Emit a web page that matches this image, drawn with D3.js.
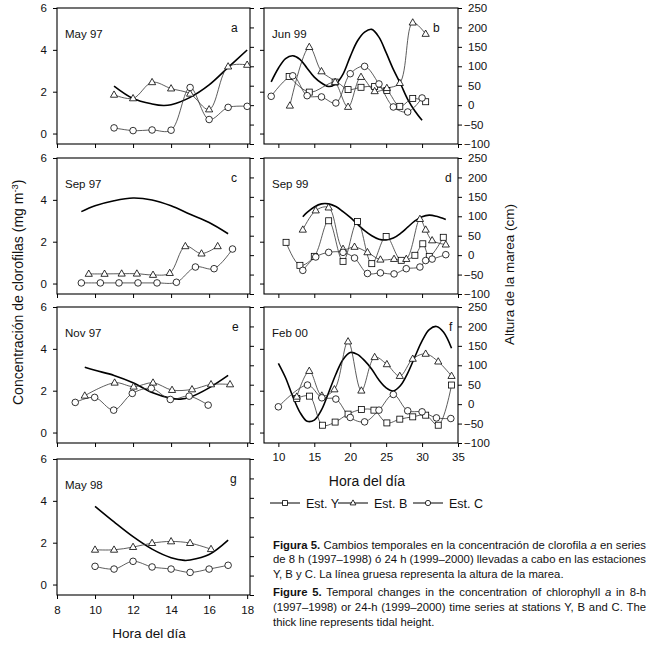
<!DOCTYPE html>
<html><head><meta charset="utf-8">
<script src="https://cdn.jsdelivr.net/npm/d3@7"></script>
<style>
body{margin:0;background:#fff}
svg text{font-family:"Liberation Sans",Arial,Helvetica,sans-serif;fill:#111}
</style>
</head><body>
<svg id="chart" width="653" height="645"></svg>
<script>
// ---------------- DATA (hour of day, value) ----------------
// chlorophyll in mg m-3 ; tide in cm
const stations = ["Est. Y", "Est. B", "Est. C"];
const leftTicksX = [8, 10, 12, 14, 16, 18];
const rightTicksX = [10, 15, 20, 25, 30, 35];
const chlTicks = [0, 2, 4, 6];
const tideTicks = [-100, -50, 0, 50, 100, 150, 200, 250];

// a  May 97
const aB = [[11,1.85],[12,1.68],[13,2.45],[14,2.15],[15,1.9],[16,1.15],[17,3.2],[18,3.28]];
const aC = [[11,0.27],[12,0.14],[13,0.17],[14,0.16],[15,2.2],[16,0.67],[17,1.25],[18,1.3]];
const aTide = [[11,49],[12,17],[13,3],[13.6,-1],[14,1],[15,20],[16,52],[17,97],[18,142]];
// b  Jun 99
const bY = [[11.5,2.73],[14.3,1.98],[17.9,2.46],[19.7,2.10],[21.5,2.21],[23.4,2.25],[25.1,2.06],[26.9,1.30],[28.7,1.68],[30.5,1.52]];
const bB = [[11.6,1.33],[14.3,4.13],[16.0,2.97],[17.9,2.46],[19.7,1.27],[21.5,2.70],[23.4,2.02],[25.1,2.17],[26.9,2.41],[28.7,5.30],[30.5,4.76]];
const bC = [[9.0,1.78],[12.0,2.76],[14.0,1.81],[16.0,1.75],[18.0,1.46],[20.0,2.86],[22.0,3.21],[24.0,2.37],[26.0,1.27],[28.0,1.03],[30.0,1.70]];
const bTide = [[9,60],[10,95],[11,120],[12,127],[13,118],[14,95],[15,72],[16,57],[17,48],[18,55],[19,80],[20,125],[21,165],[22,188],[23,195],[24,175],[25,135],[26,92],[27,55],[28,15],[29,-15],[30,-39]];
// c  Sep 97
const cB = [[9.67,0.46],[10.5,0.46],[11.4,0.47],[12.2,0.47],[13.05,0.41],[13.93,0.5],[14.75,1.78],[15.6,1.43],[16.45,1.78]];
const cC = [[9.28,0.03],[10.28,0.03],[11.26,0.03],[12.26,0.03],[13.26,0.03],[14.28,0.06],[15.28,0.79],[16.26,0.71],[17.23,1.65]];
const cTide = [[9.28,112],[10,127],[11,140],[12,147],[13,142],[14,127],[15,105],[16,84],[17,55]];
// d  Sep 99
const dY = [[11.07,1.97],[13.0,0.87],[15.0,1.30],[17.0,3.0],[19.0,1.06],[21.0,2.97],[23.0,0.95],[25.0,2.25],[27.1,1.11],[29.0,1.35],[30.1,1.90],[31.0,1.30],[32.95,2.21]];
const dB = [[13.4,2.57],[15.2,3.49],[17.0,3.63],[19.0,1.65],[20.6,1.75],[22.4,1.49],[24.2,1.14],[26.1,1.17],[27.8,1.17],[29.7,3.08],[30.5,2.57],[31.4,2.06],[33.3,1.86]];
const dC = [[13.4,0.63],[15.2,1.27],[17.0,1.49],[19.0,1.49],[20.6,1.22],[22.4,0.48],[24.2,0.51],[26.1,0.46],[27.8,0.71],[29.7,0.79],[30.5,1.10],[31.4,1.17],[33.3,1.38]];
const dTide = [[13.4,99],[14,110],[15,124],[16,132],[17,132],[18,125],[19,112],[20,97],[21,80],[22,63],[23,50],[24,41],[25,39],[26,44],[27,56],[28,72],[29,88],[30,99],[31,103],[32,100],[33.3,92]];
// e  Nov 97
const eB = [[9.46,1.76],[11.03,2.38],[12.03,2.19],[13.05,2.38],[14.05,2.03],[15.1,2.06],[16.1,2.30],[17.1,2.30]];
const eC = [[8.96,1.44],[9.98,1.68],[10.98,1.07],[11.96,1.87],[12.96,2.11],[13.96,1.58],[14.95,1.74],[15.95,1.31]];
const eTide = [[9.46,95],[10,87],[11,74],[12,55],[13,30],[14,15],[14.5,13],[15,18],[16,42],[17,74]];
// f  Feb 00
const fY = [[12.56,1.63],[14.33,1.74],[16.15,0.35],[17.9,0.50],[19.7,0.88],[21.55,1.10],[23.3,1.07],[25.1,0.46],[26.9,0.64],[28.7,0.75],[30.5,0.83],[32.25,0.35],[34.1,2.27]];
const fB = [[12.56,1.71],[14.3,2.94],[16.05,1.76],[17.8,2.06],[19.7,4.35],[21.55,2.0],[23.4,3.6],[25.1,3.26],[26.9,2.70],[28.7,3.52],[30.5,3.76],[32.25,3.39],[34.1,2.70]];
const fC = [[10.0,1.23],[14.05,2.27],[16.05,1.66],[18.0,1.6],[20.0,0.72],[22.0,0.51],[24.0,1.07],[26.0,1.82],[28.0,1.04],[30.0,0.99],[32.0,0.70],[34.0,0.67]];
const fTide = [[10,105],[11,68],[12,20],[13,-21],[14,-44],[15,-41],[16,-15],[17,30],[18,77],[19,115],[20,133],[21,128],[22,112],[23,90],[24,62],[25,42],[26,34],[27,48],[28,80],[29,122],[30,163],[31,192],[32,200],[33,185],[34.1,144]];
// g  May 98
const gB = [[10,1.66],[11,1.66],[12,1.79],[13,1.98],[14,2.06],[15,1.98],[16.1,1.69]];
const gC = [[10,0.87],[11,0.74],[12,1.11],[13,0.84],[14,0.74],[15,0.58],[16,0.74],[17,0.92]];
const gTide = [[10,128],[11,88],[12,50],[13,18],[14,-4],[14.7,-11],[15,-10],[16,4],[17,41]];

const panelNames = ["May 97","Jun 99","Sep 97","Sep 99","Nov 97","Feb 00","May 98"];
const panelLetters = ["a","b","c","d","e","f","g"];

// ---------------- LAYOUT ----------------
const svg = d3.select("#chart");
svg.append("rect").attr("width",653).attr("height",645).attr("fill","#fff");
const PH = 136;
const xL = d3.scaleLinear([8, 18.15], [57, 250]);
const xR = d3.scaleLinear([8, 35], [264, 458]);

const panels = [
  {col:0, top:8,   Y:null, B:aB, C:aC, T:aTide, lx:231, xlab:false},
  {col:1, top:8,   Y:bY,   B:bB, C:bC, T:bTide, lx:433, xlab:false},
  {col:0, top:158, Y:null, B:cB, C:cC, T:cTide, lx:231, xlab:false},
  {col:1, top:158, Y:dY,   B:dB, C:dC, T:dTide, lx:445, xlab:false},
  {col:0, top:307, Y:null, B:eB, C:eC, T:eTide, lx:232, xlab:false},
  {col:1, top:307, Y:fY,   B:fB, C:fC, T:fTide, lx:449, xlab:true},
  {col:0, top:459, Y:null, B:gB, C:gC, T:gTide, lx:230, xlab:true}
];

function drawMarker(sel, type, size){
  const s = size || 1;
  if(type === "Y"){
    sel.append("rect").attr("x",-3*s).attr("y",-3*s).attr("width",6*s).attr("height",6*s);
  } else if(type === "B"){
    sel.append("path").attr("d",`M0,${-3.9*s}L${3.6*s},${2.4*s}L${-3.6*s},${2.4*s}Z`);
  } else {
    sel.append("circle").attr("r",3.3*s);
  }
}

const tickFont = "11.5px";

panels.forEach((p, i) => {
  const x = p.col === 0 ? xL : xR;
  const y = d3.scaleLinear([-0.5, 6], [p.top + PH, p.top]);
  const t = d3.scaleLinear([-100, 250], [p.top + PH, p.top]);
  const [x0, x1] = x.range();
  const g = svg.append("g");

  const la = g.append("g").attr("transform", `translate(${x0},0)`)
    .call(d3.axisLeft(y).tickValues(chlTicks).tickSize(4).tickPadding(6)
      .tickFormat(p.col === 0 ? d3.format("d") : () => ""));
  const ra = g.append("g").attr("transform", `translate(${x1},0)`)
    .call(d3.axisRight(t).tickValues(tideTicks).tickSize(4).tickPadding(10)
      .tickFormat(p.col === 1 ? d3.format("d") : () => ""));
  ra.selectAll("text").attr("x", d => d < 0 ? 6 : 10);
  const ba = g.append("g").attr("transform", `translate(0,${p.top + PH})`)
    .call(d3.axisBottom(x).tickValues(p.col === 0 ? leftTicksX : rightTicksX)
      .tickSize(4).tickPadding(p.col === 0 ? 7 : 6)
      .tickFormat(p.xlab ? d3.format("d") : () => ""));
  [la, ra, ba].forEach(a => {
    a.select(".domain").remove();
    a.selectAll("line").attr("stroke", "#000").attr("stroke-width", 1);
    a.selectAll("text").style("font-size", tickFont).attr("fill", "#111")
      .style("font-family", '"Liberation Sans",Arial,sans-serif');
  });

  g.append("rect").attr("x", x0).attr("y", p.top).attr("width", x1 - x0).attr("height", PH)
    .attr("fill", "none").attr("stroke", "#000").attr("stroke-width", 1.1);

  const tideLine = d3.line().x(d => x(d[0])).y(d => t(d[1])).curve(d3.curveCatmullRom.alpha(0.5));
  g.append("path").datum(p.T).attr("d", tideLine)
    .attr("fill", "none").attr("stroke", "#000").attr("stroke-width", 1.6);

  const chlLine = d3.line().x(d => x(d[0])).y(d => y(d[1])).curve(d3.curveCatmullRom.alpha(0.5));
  [["Y", p.Y], ["B", p.B], ["C", p.C]].forEach(([k, data]) => {
    if (!data) return;
    g.append("path").datum(data).attr("d", chlLine)
      .attr("fill", "none").attr("stroke", "#333").attr("stroke-width", 0.8);
  });
  [["Y", p.Y], ["B", p.B], ["C", p.C]].forEach(([k, data]) => {
    if (!data) return;
    const m = g.append("g").attr("fill", "#fff").attr("stroke", "#000").attr("stroke-width", 0.8)
      .selectAll("g").data(data).join("g")
      .attr("transform", d => `translate(${x(d[0])},${y(d[1])})`);
    drawMarker(m, k);
  });

  g.append("text").attr("x", x0 + 8).attr("y", p.top + 29.5).style("font-size", "11.5px").text(panelNames[i]);
  g.append("text").attr("x", p.lx).attr("y", p.top + 24).style("font-size", "12px").text(panelLetters[i]);
});

// axis titles
svg.append("text").attr("transform", "translate(23,405) rotate(-90)").style("font-size", "14px")
  .call(s => {
    s.append("tspan").text("Concentración de clorofilas (mg m");
    s.append("tspan").attr("dy", -5).style("font-size", "9.5px").text("-3");
    s.append("tspan").attr("dy", 5).text(")");
  });
svg.append("text").attr("transform", "translate(514,345) rotate(-90)").style("font-size", "13.5px")
  .text("Altura de la marea (cm)");
svg.append("text").attr("x", 149).attr("y", 638).attr("text-anchor", "middle").style("font-size", "13.5px").text("Hora del día");
svg.append("text").attr("x", 367).attr("y", 486).attr("text-anchor", "middle").style("font-size", "14px").text("Hora del día");

// legend
const legX = [270, 338, 413];
const legKeys = ["Y", "B", "C"];
legKeys.forEach((k, i) => {
  const lg = svg.append("g").attr("transform", `translate(${legX[i]},503)`);
  lg.append("line").attr("x1", 0).attr("x2", 30).attr("stroke", "#000").attr("stroke-width", 1);
  const m = lg.append("g").attr("transform", "translate(15,0)").attr("fill", "#fff").attr("stroke", "#000").attr("stroke-width", 0.8);
  drawMarker(m, k, 0.8);
  lg.append("text").attr("x", 36).attr("y", 4.5).style("font-size", "12.5px").text(stations[i]);
});

// caption
const capLines = [
  {y:549, j:true,  parts:[["Figura 5.","b"],[" Cambios temporales en la concentración de clorofila ",""],["a","i"],[" en series",""]]},
  {y:563, j:true,  parts:[["de 8 h (1997–1998) ó 24 h (1999–2000) llevadas a cabo en las estaciones",""]]},
  {y:578, j:false, parts:[["Y, B y C. La línea gruesa representa la altura de la marea.",""]]},
  {y:596, j:true,  parts:[["Figure 5.","b"],[" Temporal changes in the concentration of chlorophyll ",""],["a","i"],[" in 8-h",""]]},
  {y:611, j:true,  parts:[["(1997–1998) or 24-h (1999–2000) time series at stations Y, B and C. The",""]]},
  {y:626, j:false, parts:[["thick line represents tidal height.",""]]}
];
const capX0 = 273, capX1 = 646;
capLines.forEach(L => {
  const tx = svg.append("text").attr("x", capX0).attr("y", L.y).style("font-size", "11.3px").attr("xml:space","preserve");
  L.parts.forEach(([s, f]) => {
    const ts = tx.append("tspan").text(s);
    if (f === "b") ts.style("font-weight", "bold");
    if (f === "i") ts.style("font-style", "italic");
  });
  if (L.j) {
    const len = tx.node().getComputedTextLength();
    const full = L.parts.map(d => d[0]).join("");
    const spaces = (full.match(/ /g) || []).length;
    if (spaces > 0) tx.attr("word-spacing", (capX1 - capX0 - len) / spaces);
  }
});
</script>
</body></html>
